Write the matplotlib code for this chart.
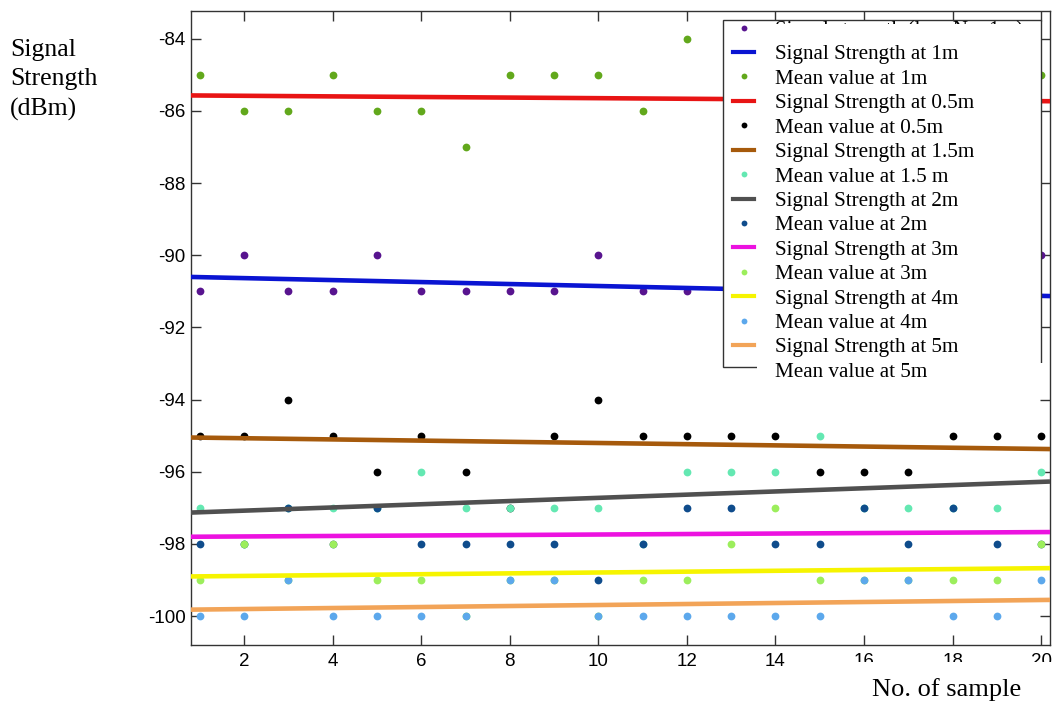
import matplotlib.pyplot as plt
from matplotlib.patches import Rectangle
from matplotlib.lines import Line2D

plt.rcParams['axes.unicode_minus'] = False

samples = list(range(1, 21))

# received signal per sample (dBm); points under the legend box are guesses
pts_1m = [-91, -90, -91, -91, -90, -91, -91, -91, -91, -90,
          -91, -91, -91, -91, -91, -91, -91, -91, -91, -90]
pts_05m = [-85, -86, -86, -85, -86, -86, -87, -85, -85, -85,
           -86, -84, -86, -85, -86, -86, -85, -86, -86, -85]
pts_15m = [-95, -95, -94, -95, -96, -95, -96, -97, -95, -94,
           -95, -95, -95, -95, -96, -96, -96, -95, -95, -95]
pts_2m = [-97, -98, -97, -97, -97, -96, -97, -97, -97, -97,
          -98, -96, -96, -96, -95, -97, -97, -97, -97, -96]
pts_3m = [-98, -98, -97, -98, -97, -98, -98, -98, -98, -99,
          -98, -97, -97, -98, -98, -97, -98, -97, -98, -98]
pts_4m = [-99, -98, -99, -98, -99, -99, -100, -99, -99, -100,
          -99, -99, -98, -97, -99, -99, -99, -99, -99, -98]
pts_5m = [-100, -100, -99, -100, -100, -100, -100, -99, -99, -100,
          -100, -100, -100, -100, -100, -99, -99, -100, -100, -99]

# fitted lines, value at left / right edge of the plot
fit_x = [0.8, 20.2]
fit_1m = [-90.6, -91.13]
fit_05m = [-85.57, -85.73]
fit_15m = [-95.05, -95.37]
fit_2m = [-97.13, -96.27]
fit_3m = [-97.8, -97.67]
fit_4m = [-98.9, -98.67]
fit_5m = [-99.82, -99.55]

dot_series = [
    (pts_1m, '#58148f', 'Signal strength (loss No. 1m)'),
    (pts_05m, '#62a81c', 'Mean value at 1m'),
    (pts_15m, '#000000', 'Mean value at 0.5m'),
    (pts_2m, '#64e8b2', 'Mean value at 1.5 m'),
    (pts_3m, '#0f4c8c', 'Mean value at 2m'),
    (pts_4m, '#9cee5c', 'Mean value at 3m'),
    (pts_5m, '#5ca8ec', 'Mean value at 4m'),
]
line_series = [
    (fit_1m, '#0a14d2', 'Signal Strength at 1m'),
    (fit_05m, '#e81414', 'Signal Strength at 0.5m'),
    (fit_15m, '#a65a0c', 'Signal Strength at 1.5m'),
    (fit_2m, '#505050', 'Signal Strength at 2m'),
    (fit_3m, '#ec12e0', 'Signal Strength at 3m'),
    (fit_4m, '#f6f400', 'Signal Strength at 4m'),
    (fit_5m, '#f2a458', 'Signal Strength at 5m'),
]

W, H = 1052, 706
fig = plt.figure(figsize=(W / 100, H / 100), dpi=100)
ax = fig.add_axes([191 / W, 1 - 645 / H, 859 / W, 634 / H])

dot_handles = []
for ys, c, lab in dot_series:
    ax.plot(samples, ys, 'o', color=c, markersize=5.6, markeredgewidth=0, zorder=2)
    dot_handles.append(Line2D([], [], ls='none', marker='o', color=c,
                              markersize=4.2, markeredgewidth=0, label=lab))
line_handles = []
for ys, c, lab in line_series:
    ax.plot(fit_x, ys, '-', color=c, lw=3.3, zorder=3, solid_capstyle='butt')
    line_handles.append(Line2D([], [], color=c, lw=3, label=lab))

ax.set_xlim(0.8, 20.2)
ax.set_ylim(-100.8, -83.23)
ax.set_xticks(range(2, 21, 2))
ax.set_yticks(range(-100, -83, 2))
ax.tick_params(direction='in', length=7, width=1, top=True, right=True,
               labelsize=13.5, colors='#333333', labelcolor='black')
ax.tick_params(axis='x', pad=6)
ax.tick_params(axis='y', pad=4)
for lab in ax.get_xticklabels() + ax.get_yticklabels():
    lab.set_family('Liberation Sans')
for s in ax.spines.values():
    s.set_color('#333333')
    s.set_linewidth(1)

# legend box (drawn on its own so the last label can spill out, as in the original)
box = Rectangle((723 / W, 1 - 367 / H), 318 / W, 347 / H, transform=fig.transFigure,
                facecolor='white', edgecolor='#333333', lw=1, zorder=4, clip_on=False)
ax.add_artist(box)
# white strip behind the last label, hiding the bottom edge there
ax.add_artist(Rectangle((757 / W, 1 - 380 / H), 286 / W, 17 / H,
                        transform=fig.transFigure, facecolor='white',
                        edgecolor='none', zorder=4.5, clip_on=False))

handles = []
for i in range(7):
    handles.append(dot_handles[i])
    handles.append(line_handles[i])
handles.append(Line2D([], [], ls='none', label='Mean value at 5m'))
leg = ax.legend(handles=handles, loc='upper left',
                bbox_to_anchor=(729 / W, 1 - 16 / H),
                bbox_transform=fig.transFigure, borderaxespad=0,
                prop={'family': 'Liberation Serif', 'size': 15.2},
                frameon=False, labelspacing=0.22, borderpad=0.2,
                handlelength=1.0, handletextpad=1.0)
leg.set_zorder(5)

# white patches that clip the first legend label and the right tick labels
fig.add_artist(Rectangle((775 / W, 1 - 41 / H), 265 / W, 17 / H,
                         transform=fig.transFigure, facecolor='white',
                         edgecolor='none', zorder=10))
fig.add_artist(Rectangle((800 / W, 0), 252 / W, 44 / H,
                         transform=fig.transFigure, facecolor='white',
                         edgecolor='none', zorder=10))

fig.text(10 / W, 1 - 39 / H, 'Signal\nStrength\n(dBm)', ha='left', va='top',
         family='Liberation Serif', fontsize=18.5, linespacing=1.42)
fig.text(872 / W, 1 - 690 / H, 'No. of sample', ha='left', va='center',
         family='Liberation Serif', fontsize=19, zorder=11)

fig.savefig('out.png', dpi=100)
